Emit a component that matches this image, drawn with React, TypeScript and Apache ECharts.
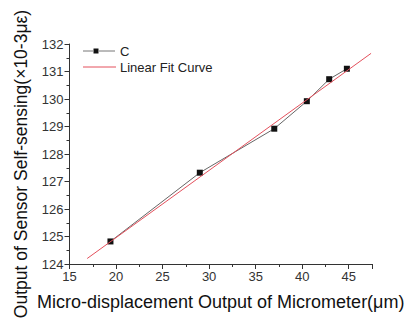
import React, { useEffect, useRef } from "react";
import * as echarts from "echarts";

const xValues = [19.4, 29.0, 37.0, 40.5, 42.9, 44.8];
const yValues = [124.82, 127.32, 128.92, 129.92, 130.72, 131.1];
const fitX = [16.9, 47.4];
const fitY = [124.2, 131.66];
const seriesNames = ["C", "Linear Fit Curve"];
const xTitle = "Micro-displacement Output of Micrometer(μm)";
const yTitle = "Output of Sensor Self-sensing(×10-3με)";

export default function App() {
  const ref = useRef<HTMLDivElement>(null);
  useEffect(() => {
    if (!ref.current) return;
    const chart = echarts.init(ref.current, undefined, { renderer: "svg" });
    const font = "'Liberation Sans', Arial, sans-serif";
    const red = "#e4505c";
    chart.setOption({
      animation: false,
      backgroundColor: "#ffffff",
      grid: { left: 69.5, right: 37, top: 44, bottom: 59 },
      legend: { show: false },
      graphic: [
        {
          type: "text",
          x: 21,
          y: 164,
          rotation: Math.PI / 2,
          style: {
            text: yTitle,
            fontFamily: font,
            fontSize: 17.5,
            fill: "#111",
            align: "center",
            verticalAlign: "middle",
          },
        },
        { type: "line", shape: { x1: 83, y1: 51, x2: 93, y2: 51 }, style: { stroke: "#777", lineWidth: 1 } },
        { type: "line", shape: { x1: 99, y1: 51, x2: 115, y2: 51 }, style: { stroke: "#777", lineWidth: 1 } },
        { type: "rect", shape: { x: 93.5, y: 48.5, width: 5, height: 5 }, style: { fill: "#111" } },
        {
          type: "text",
          x: 120,
          y: 51,
          style: { text: seriesNames[0], fontFamily: font, fontSize: 13, fill: "#222", verticalAlign: "middle" },
        },
        { type: "line", shape: { x1: 83, y1: 67, x2: 116, y2: 67 }, style: { stroke: red, lineWidth: 1 } },
        {
          type: "text",
          x: 120,
          y: 67,
          style: { text: seriesNames[1], fontFamily: font, fontSize: 13, fill: "#222", verticalAlign: "middle" },
        },
      ],
      xAxis: {
        type: "value",
        min: 15,
        max: 47.5,
        interval: 5,
        name: xTitle,
        nameLocation: "middle",
        nameGap: 29,
        nameTextStyle: { fontFamily: font, fontSize: 18, color: "#111" },
        axisLine: { show: true, lineStyle: { color: "#333", width: 1 } },
        axisTick: { show: true, inside: false, length: 5, lineStyle: { color: "#333" } },
        minorTick: { show: true, splitNumber: 2, length: 3, lineStyle: { color: "#333" } },
        axisLabel: {
          fontFamily: font,
          fontSize: 13,
          color: "#333",
          margin: 6,
          formatter: (v: number) => (v > 46 ? "" : String(v)),
        },
        splitLine: { show: false },
      },
      yAxis: {
        type: "value",
        min: 124,
        max: 132,
        interval: 1,
        axisLine: { show: true, lineStyle: { color: "#333", width: 1 } },
        axisTick: { show: true, inside: false, length: 5, lineStyle: { color: "#333" } },
        minorTick: { show: true, splitNumber: 2, length: 3, lineStyle: { color: "#333" } },
        axisLabel: { fontFamily: font, fontSize: 13, color: "#333", margin: 6 },
        splitLine: { show: false },
      },
      series: [
        {
          name: seriesNames[0],
          type: "line",
          data: xValues.map((x, i) => [x, yValues[i]]),
          symbol: "rect",
          symbolSize: 6,
          itemStyle: { color: "#111" },
          lineStyle: { color: "#666", width: 1 },
          z: 3,
        },
        {
          name: seriesNames[1],
          type: "line",
          data: fitX.map((x, i) => [x, fitY[i]]),
          symbol: "none",
          itemStyle: { color: red },
          lineStyle: { color: red, width: 1 },
          z: 4,
        },
      ],
    });
    return () => chart.dispose();
  }, []);
  return (
    <div
      ref={ref}
      style={{ position: "fixed", left: 0, top: 0, width: 409, height: 323, background: "#fff" }}
    />
  );
}
